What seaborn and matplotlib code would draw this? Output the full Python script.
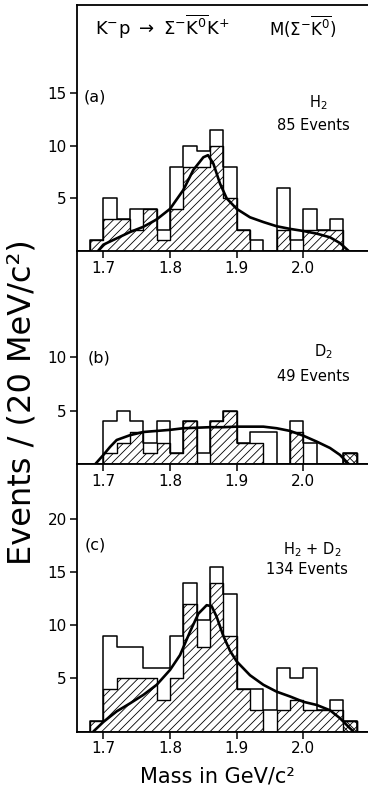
import numpy as np
import pandas as pd
import matplotlib
matplotlib.use("Agg")
import matplotlib.pyplot as plt
import seaborn as sns

# ---------------- data ----------------
bin_edges = [1.66, 1.68, 1.70, 1.72, 1.74, 1.76, 1.78, 1.80, 1.82, 1.84, 1.86, 1.88,
             1.90, 1.92, 1.94, 1.96, 1.98, 2.00, 2.02, 2.04, 2.06, 2.08, 2.10]

# (a) H2, 85 events
a_open  = [0, 1, 5, 3, 4, 4, 2, 8, 10, 9.5, 11.5, 8, 2, 1, 0, 6, 1, 4, 2, 3, 0, 0]
a_hatch = [0, 1, 3, 3, 2, 4, 1, 4, 8, 8, 10, 5, 2, 0, 0, 2, 0, 2, 2, 2, 0, 0]
a_cross = [0, 0, 0, 0, 0, 0, 0, 0, 0, 0, 0, 0, 0, 0, 0, 0, 0, 0, 0, 0, 0, 0]
a_cx = [1.692, 1.70, 1.72, 1.74, 1.76, 1.78, 1.80, 1.82, 1.835, 1.85, 1.857, 1.865,
        1.875, 1.885, 1.90, 1.92, 1.94, 1.96, 1.98, 2.00, 2.02, 2.04, 2.055, 2.068]
a_cy = [0.0, 0.6, 1.2, 1.8, 2.3, 3.0, 4.0, 5.8, 7.7, 8.9, 9.1, 8.3,
        6.4, 5.0, 4.0, 3.2, 2.75, 2.35, 2.1, 1.9, 1.65, 1.3, 0.75, 0.0]

# (b) D2, 49 events
b_open  = [0, 0, 4, 5, 4, 2, 4, 1, 4, 1, 4, 5, 2, 3, 3, 0, 4, 2, 0, 0, 1, 0]
b_hatch = [0, 0, 1, 2, 3, 1, 2, 1, 4, 0, 4, 5, 2, 2, 0, 0, 3, 0, 0, 0, 1, 0]
b_cross = [0, 0, 0, 0, 0, 0, 0, 0, 0, 0, 0, 0, 0, 0, 0, 0, 0, 0, 0, 0, 1, 0]
b_cx = [1.688, 1.70, 1.71, 1.72, 1.74, 1.76, 1.78, 1.80, 1.82, 1.84, 1.86, 1.88,
        1.90, 1.92, 1.94, 1.96, 1.98, 2.00, 2.02, 2.04, 2.055, 2.068]
b_cy = [0.0, 0.85, 1.6, 2.25, 2.7, 3.0, 3.1, 3.2, 3.35, 3.4, 3.45, 3.45,
        3.5, 3.5, 3.5, 3.35, 3.1, 2.65, 2.1, 1.5, 0.85, 0.0]

# (c) H2 + D2, 134 events
c_open  = [0, 1, 9, 8, 8, 6, 6, 9, 14, 10.5, 15.5, 13, 4, 4, 2, 6, 5, 6, 2, 3, 1, 0]
c_hatch = [0, 1, 4, 5, 5, 5, 3, 5, 12, 8, 14, 9, 4, 2, 0, 2, 3, 2, 2, 2, 1, 0]
c_cross = [0, 0, 0, 0, 0, 0, 0, 0, 0, 0, 0, 0, 0, 0, 0, 0, 0, 0, 0, 0, 1, 0]
c_cx = [1.685, 1.70, 1.72, 1.74, 1.76, 1.78, 1.80, 1.815, 1.83, 1.8425, 1.855, 1.8625,
        1.87, 1.88, 1.89, 1.90, 1.92, 1.94, 1.96, 1.98, 2.00, 2.02, 2.04, 2.055, 2.07, 2.075]
c_cy = [0.0, 0.9, 1.9, 2.65, 3.45, 4.4, 5.8, 7.2, 9.4, 11.1, 11.9, 11.8,
        10.8, 9.0, 7.6, 6.6, 5.3, 4.4, 3.75, 3.3, 2.8, 2.5, 2.0, 1.25, 0.3, 0.0]

x_ticks = [1.7, 1.8, 1.9, 2.0]
x_tick_labels = ["1.7", "1.8", "1.9", "2.0"]
a_yticks = [5, 10, 15]
b_yticks = [5, 10]
c_yticks = [5, 10, 15, 20]

# ---------------- style ----------------
sns.set_style("ticks")
plt.rcParams["font.family"] = ["DejaVu Sans"]
plt.rcParams["hatch.linewidth"] = 0.6
plt.rcParams["hatch.color"] = "black"
plt.rcParams["mathtext.fontset"] = "dejavusans"

W, H = 368, 799
fig = plt.figure(figsize=(W / 100, H / 100), dpi=100)
fig.patch.set_facecolor("white")

centers = [(bin_edges[i] + bin_edges[i + 1]) / 2 for i in range(len(bin_edges) - 1)]


def px_axes(left, top, right, bottom):
    return fig.add_axes([left / W, 1 - bottom / H, (right - left) / W, (bottom - top) / H])


panels = [
    dict(top=5, bottom=251, ymax=23.36, open=a_open, hatch=a_hatch, cross=a_cross,
         cx=a_cx, cy=a_cy, yt=a_yticks, topspine=True),
    dict(top=251, bottom=464, ymax=19.96, open=b_open, hatch=b_hatch, cross=b_cross,
         cx=b_cx, cy=b_cy, yt=b_yticks, topspine=False),
    dict(top=464, bottom=731.5, ymax=25.2, open=c_open, hatch=c_hatch, cross=c_cross,
         cx=c_cx, cy=c_cy, yt=c_yticks, topspine=False),
]

for p in panels:
    ax = px_axes(76.7, p["top"], 368, p["bottom"])
    ax.patch.set_visible(False)

    # hatched subset
    sns.histplot(x=centers, weights=p["hatch"], bins=bin_edges, element="step",
                 fill=True, color="black", alpha=1, linewidth=1.0, ax=ax)
    poly = ax.collections[-1]
    poly.set_facecolor("none")
    poly.set_edgecolor("black")
    poly.set_hatch("////")
    poly.set_alpha(1)

    if sum(p["cross"]) > 0:
        sns.histplot(x=centers, weights=p["cross"], bins=bin_edges, element="step",
                     fill=True, color="black", alpha=1, linewidth=1.0, ax=ax)
        poly = ax.collections[-1]
        poly.set_facecolor("none")
        poly.set_edgecolor("black")
        poly.set_hatch("\\\\\\\\")
        poly.set_alpha(1)

    # total (open) histogram
    sns.histplot(x=centers, weights=p["open"], bins=bin_edges, element="step",
                 fill=False, color="black", linewidth=1.1, ax=ax)

    # fitted curve
    sns.lineplot(x=p["cx"], y=p["cy"], sort=False, estimator=None, color="black",
                 linewidth=1.9, ax=ax)

    ax.set_xlim(1.66, 2.097)
    ax.set_ylim(0, p["ymax"])
    ax.set_xlabel("")
    ax.set_ylabel("")
    ax.set_xticks(x_ticks)
    ax.set_xticklabels(x_tick_labels)
    ax.set_yticks(p["yt"])
    ax.set_yticklabels([str(v) for v in p["yt"]])
    ax.tick_params(axis="both", direction="out", length=5, width=1.1, labelsize=11,
                   pad=2, color="black", labelcolor="black")
    for side in ["left", "bottom", "top"]:
        ax.spines[side].set_linewidth(1.3)
        ax.spines[side].set_color("black")
    ax.spines["right"].set_visible(False)
    ax.spines["top"].set_visible(p["topspine"])


def ftext(x, y, s, **kw):
    fig.text(x / W, 1 - y / H, s, ha=kw.pop("ha", "center"), va=kw.pop("va", "center"),
             color="black", **kw)


# header
ftext(162, 27, r"$\mathrm{K^{-}p\ \rightarrow\ \Sigma^{-}\overline{K^{0}}K^{+}}$", fontsize=13)
ftext(303, 27, r"$\mathrm{M(\Sigma^{-}\overline{K^{0}})}$", fontsize=12)

# panel labels
ftext(95, 97, "(a)", fontsize=11.5)
ftext(99, 358, "(b)", fontsize=11.5)
ftext(95, 545, "(c)", fontsize=11.5)

ftext(318, 103, r"H$_2$", fontsize=10.5)
ftext(313, 126, "85 Events", fontsize=10.5)
ftext(323, 352, r"D$_2$", fontsize=10.5)
ftext(313, 377, "49 Events", fontsize=10.5)
ftext(312, 550, r"H$_2$ + D$_2$", fontsize=10.5)
ftext(307, 570, "134 Events", fontsize=10.5)

# axis labels
ftext(22, 402, "Events / (20 MeV/c²)", fontsize=23, rotation=90)
ftext(217, 776, "Mass in GeV/c²", fontsize=15)

fig.savefig("out.png", dpi=100, facecolor="white")
